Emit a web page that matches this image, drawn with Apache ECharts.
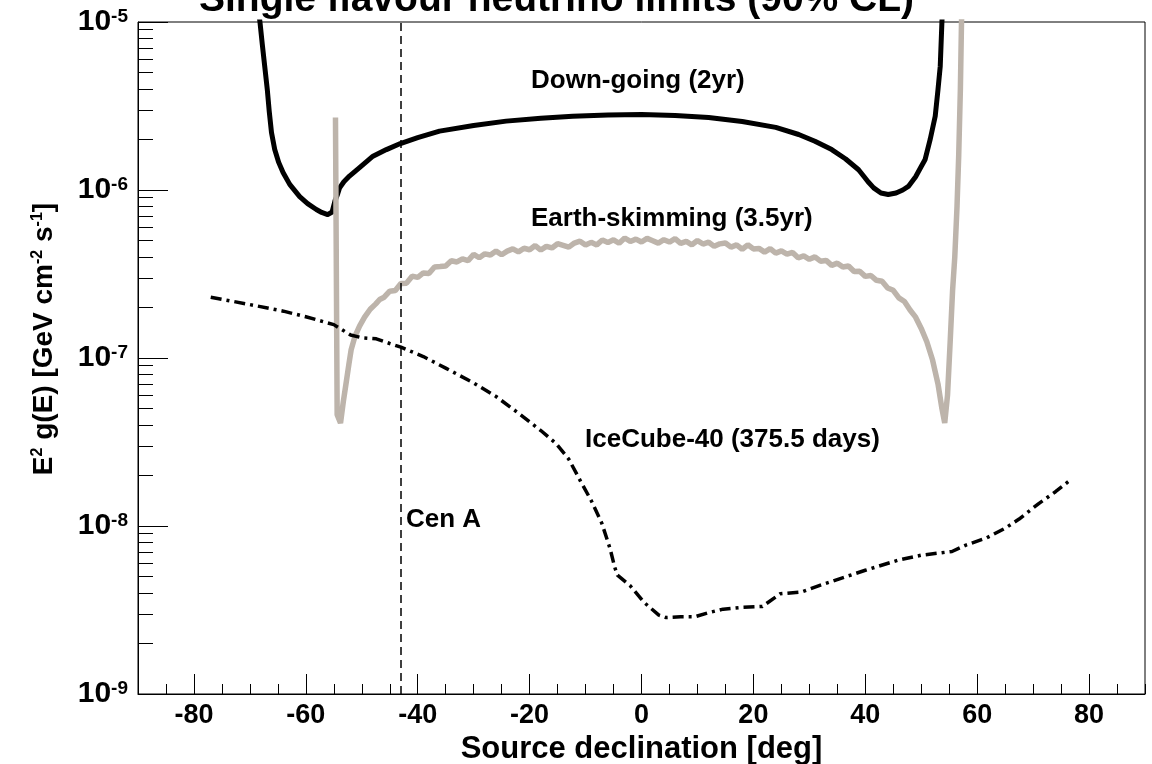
<!DOCTYPE html>
<html><head><meta charset="utf-8">
<script src="https://cdn.jsdelivr.net/npm/echarts@6/dist/echarts.min.js"></script>
<style>html,body{margin:0;padding:0;background:#fff}#c{width:1152px;height:764px}</style>
</head><body><div id="c"></div>
<script>
// ---- data (declination in deg, E^2 g(E) in GeV cm^-2 s^-1) ----
const downDec = [-69.0,-68.2,-67.78,-66.89,-66.54,-66.14,-65.56,-64.85,-64.07,-62.88,-61.1,-59.68,-58.12,-57.17,-56.1,-55.3,-54.8,-54.3,-53.96,-53.2,-52.2,-50.4,-48.0,-45.6,-43.1,-40.0,-36.1,-30.0,-24.2,-18.0,-12.3,-6.0,0,6,12,18,24,28.1,31,34,36.5,38.8,39.8,40.5,41.5,42.8,44.1,45.5,46.7,47.7,49.0,50.0,50.7,51.6,52.5,53.0,53.4,53.7,54.0];
const downVal = [1.6e-5,1.0e-5,7.35e-6,3.96e-6,2.93e-6,2.2e-6,1.74e-6,1.46e-6,1.27e-6,1.08e-6,9.14e-7,8.3e-7,7.65e-7,7.35e-7,7.14e-7,7.4e-7,8.6e-7,9.5e-7,1.03e-6,1.12e-6,1.21e-6,1.36e-6,1.59e-6,1.74e-6,1.89e-6,2.05e-6,2.24e-6,2.42e-6,2.57e-6,2.67e-6,2.75e-6,2.8e-6,2.81e-6,2.78e-6,2.7e-6,2.56e-6,2.36e-6,2.14e-6,1.95e-6,1.74e-6,1.53e-6,1.32e-6,1.2e-6,1.12e-6,1.03e-6,9.6e-7,9.4e-7,9.6e-7,1.0e-6,1.05e-6,1.2e-6,1.38e-6,1.52e-6,2.0e-6,2.75e-6,3.96e-6,5.46e-6,1.0e-5,1.6e-5];

const esDec = [-54.7,-54.4,-53.8,-53.3,-52.8,-52.3,-51.9,-51.2,-50.4,-49.5,-48.5,-47.5,-46.8,-46,
 -45,-44,-43,-42,-41,-40,-39,-38,-37,-36,-35,-34,-33,-32,-31,-30,-29,-28,-27,-26,-25,-24,-23,-22,-21,-20,
 -19,-18,-17,-16,-15,-14,-13,-12,-11,-10,-9,-8,-7,-6,-5,-4,-3,-2,-1,0,1,2,3,4,5,6,7,8,9,10,
 11,12,13,14,15,16,17,18,19,20,21,22,23,24,25,26,27,28,29,30,31,32,33,34,35,36,37,38,39,40,
 41,42,43,44,45,46,47,48,49,50,
 51,52,53,53.7,54.2,54.7,55.2,55.6,56.0,56.4,56.7,57.0,57.2,57.4];
const esVal = [2.7e-6,4.6e-8,4.1e-8,5.5e-8,7.1e-8,9.2e-8,1.12e-7,1.35e-7,1.55e-7,1.75e-7,1.95e-7,2.1e-7,2.23e-7,2.3e-7,
 2.50e-7,2.52e-7,2.78e-7,2.79e-7,3.07e-7,3.02e-7,3.21e-7,3.18e-7,3.48e-7,3.50e-7,3.53e-7,3.79e-7,3.73e-7,3.89e-7,3.80e-7,4.14e-7,
 3.95e-7,4.17e-7,4.10e-7,4.33e-7,4.12e-7,4.33e-7,4.46e-7,4.28e-7,4.50e-7,4.41e-7,
 4.67e-7,4.39e-7,4.62e-7,4.52e-7,4.79e-7,4.68e-7,4.57e-7,4.83e-7,4.96e-7,4.70e-7,
 4.88e-7,4.71e-7,5.04e-7,4.87e-7,5.05e-7,4.82e-7,5.18e-7,4.94e-7,5.10e-7,4.90e-7,
 5.15e-7,4.99e-7,4.83e-7,5.06e-7,4.90e-7,5.13e-7,4.81e-7,4.94e-7,4.72e-7,5.00e-7,
 4.77e-7,4.89e-7,4.62e-7,4.78e-7,4.84e-7,4.57e-7,4.71e-7,4.44e-7,4.72e-7,4.46e-7,
 4.49e-7,4.27e-7,4.48e-7,4.21e-7,4.34e-7,4.15e-7,4.25e-7,3.95e-7,4.05e-7,3.87e-7,
 4.00e-7,3.77e-7,3.81e-7,3.56e-7,3.67e-7,3.48e-7,3.53e-7,3.27e-7,3.28e-7,3.06e-7,
 3.10e-7,2.90e-7,2.86e-7,2.61e-7,2.53e-7,2.28e-7,2.17e-7,1.93e-7,1.75e-7,1.50e-7,
 1.25e-7,9.8e-8,7e-8,5e-8,4.1e-8,6e-8,1.3e-7,2.5e-7,4.0e-7,8e-7,1.6e-6,4e-6,1e-5,1.6e-5];

const iceDec = [-77,-70,-64,-60,-55,-52,-50,-47.4,-45,-43,-39,-35,-30,-26,-22,-18,-15.3,-13,-10.9,-9,-7.1,-5.6,-4.8,-4.3,-2,0.5,3.1,4.4,7,9.5,12,14.6,18,21.6,24.8,28.6,32,36.2,40,45.8,50,54.7,55.5,58,61.7,65,67.5,71,74,76.5];
const iceVal = [2.3e-7,2.08e-7,1.9e-7,1.76e-7,1.58e-7,1.37e-7,1.32e-7,1.3e-7,1.22e-7,1.16e-7,1.02e-7,8.7e-8,7.1e-8,5.9e-8,4.7e-8,3.7e-8,3.1e-8,2.5e-8,1.85e-8,1.42e-8,1.04e-8,7.3e-9,5.7e-9,5.1e-9,4.4e-9,3.5e-9,2.95e-9,2.85e-9,2.88e-9,2.88e-9,3.05e-9,3.2e-9,3.28e-9,3.32e-9,3.95e-9,4.05e-9,4.45e-9,4.95e-9,5.45e-9,6.25e-9,6.7e-9,7.0e-9,7.05e-9,7.7e-9,8.5e-9,9.7e-9,1.1e-8,1.36e-8,1.6e-8,1.86e-8];

const cenADec = -43.0;
const xMajorTicks = [-80,-60,-40,-20,0,20,40,60,80];
const yDecades = [-9,-8,-7,-6];
const yMinorMantissas = [2,3,4,5,6,7,8,9];

const titleText = 'Single flavour neutrino limits (90% CL)';
const xTitle = 'Source declination [deg]';
const labels = {down:'Down-going (2yr)', es:'Earth-skimming (3.5yr)', ice:'IceCube-40 (375.5 days)', cen:'Cen A'};

// ---- build ----
const pairs = (a, b) => a.map((d, i) => [d, b[i]]);
const yMinorTickPos = [];
yDecades.forEach(e => yMinorMantissas.forEach(m => yMinorTickPos.push(e + Math.log10(m))));

const FF = '"Liberation Sans", Arial, Helvetica, sans-serif';
const chart = echarts.init(document.getElementById('c'), null, {renderer: 'canvas'});
chart.setOption({
  animation: false,
  backgroundColor: '#fff',
  grid: {left: 138, right: 7, top: 22, bottom: 70, show: true, borderColor: '#000', borderWidth: 1, containLabel: false, outerBoundsMode: 'none'},
  xAxis: [
    {type: 'value', position: 'bottom', min: -90, max: 90, interval: 5,
     axisLine: {show: true, onZero: false, lineStyle: {color: '#000', width: 1}},
     axisTick: {show: true, inside: true, length: 10, lineStyle: {color: '#000', width: 1}},
     axisLabel: {show: false}, splitLine: {show: false}},
    {type: 'value', position: 'bottom', min: -90, max: 90,
     axisLine: {show: false, onZero: false},
     axisTick: {show: true, inside: true, length: 20, customValues: xMajorTicks, lineStyle: {color: '#000', width: 1}},
     axisLabel: {show: true, customValues: xMajorTicks, margin: 8, fontSize: 27, fontWeight: 'bold', fontFamily: FF, color: '#000'},
     splitLine: {show: false},
     name: xTitle, nameLocation: 'middle', nameGap: 36,
     nameTextStyle: {fontSize: 31, fontWeight: 'bold', fontFamily: FF, color: '#000'}}
  ],
  yAxis: [
    {type: 'log', logBase: 10, position: 'left', min: 1e-9, max: 1e-5,
     axisLine: {show: true, onZero: false, lineStyle: {color: '#000', width: 1}},
     axisTick: {show: true, inside: true, length: 30, lineStyle: {color: '#000', width: 1}},
     splitLine: {show: false},
     axisLabel: {margin: 10,
       formatter: v => '{b|10}{s|' + Math.round(Math.log10(v)) + '}',
       rich: {
         b: {fontSize: 30, fontWeight: 'bold', fontFamily: FF, color: '#000', lineHeight: 30, verticalAlign: 'bottom'},
         s: {fontSize: 19, fontWeight: 'bold', fontFamily: FF, color: '#000', lineHeight: 19, verticalAlign: 'top'}
       }},
     name: '{b|E}{s|2}{b| g(E) [GeV cm}{s|-2}{b| s}{s|-1}{b|]}',
     nameLocation: 'middle', nameGap: 80, nameRotate: 90,
     nameTextStyle: {padding: [0, 0, 0, 38],
       rich: {
         b: {fontSize: 28, fontWeight: 'bold', fontFamily: FF, color: '#000', lineHeight: 28, verticalAlign: 'bottom'},
         s: {fontSize: 16, fontWeight: 'bold', fontFamily: FF, color: '#000', lineHeight: 16, verticalAlign: 'top'}
       }}},
    {type: 'value', position: 'left', min: -9, max: -5,
     axisLine: {show: false, onZero: false},
     axisTick: {show: true, inside: true, length: 15, customValues: yMinorTickPos, lineStyle: {color: '#000', width: 1}},
     axisLabel: {show: false}, splitLine: {show: false}}
  ],
  series: [
    {name: labels.down, type: 'line', data: pairs(downDec, downVal), showSymbol: false, smooth: false,
     lineStyle: {color: '#000', width: 5, join: 'round'}, clip: true, silent: true},
    {name: labels.es, type: 'line', data: pairs(esDec, esVal), showSymbol: false,
     lineStyle: {color: '#bdb4ab', width: 5.5}, clip: true, silent: true},
    {name: labels.ice, type: 'line', data: pairs(iceDec, iceVal), showSymbol: false,
     lineStyle: {color: '#000', width: 3.5, type: [11, 5, 3, 5]}, clip: true, silent: true,
     markLine: {silent: true, symbol: ['none', 'none'], label: {show: false},
       lineStyle: {color: '#000', width: 1.5, type: [8, 5]},
       data: [{xAxis: cenADec}]}}
  ],
  graphic: [
    {type: 'text', x: 199, y: 0, silent: true, style: {text: titleText, font: 'bold 39px ' + FF, fill: '#000', verticalAlign: 'middle'}},
    {type: 'text', x: 531, y: 81, silent: true, style: {text: labels.down, font: 'bold 26px ' + FF, fill: '#000', verticalAlign: 'middle'}},
    {type: 'text', x: 531, y: 219, silent: true, style: {text: labels.es, font: 'bold 26px ' + FF, fill: '#000', verticalAlign: 'middle'}},
    {type: 'text', x: 585, y: 440, silent: true, style: {text: labels.ice, font: 'bold 26px ' + FF, fill: '#000', verticalAlign: 'middle'}},
    {type: 'text', x: 406, y: 520, silent: true, style: {text: labels.cen, font: 'bold 26px ' + FF, fill: '#000', verticalAlign: 'middle'}}
  ]
});
</script>
</body></html>
